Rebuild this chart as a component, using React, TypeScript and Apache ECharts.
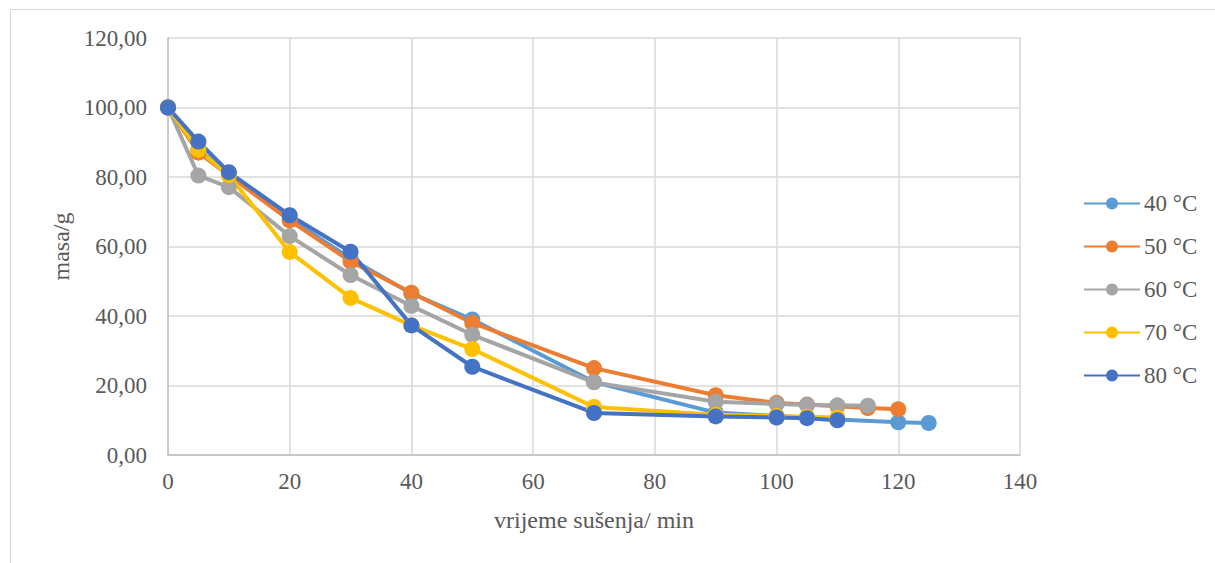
import React, { useEffect, useRef } from "react";
import * as echarts from "echarts";

const seriesNames = ["40 °C", "50 °C", "60 °C", "70 °C", "80 °C"];
const colors = ["#5B9BD5", "#ED7D31", "#A5A5A5", "#FFC000", "#4472C4"];

const t40 = [0, 5, 10, 20, 30, 40, 50, 70, 90, 100, 110, 120, 125];
const m40 = [100, 88, 81, 68, 56.5, 46.5, 39, 21, 12.2, 11.2, 10.2, 9.4, 9.2];

const t50 = [0, 5, 10, 20, 30, 40, 50, 70, 90, 100, 105, 110, 115, 120];
const m50 = [100, 87, 80.5, 67.5, 55.7, 46.7, 38, 25, 17.2, 15, 14.5, 14, 13.5, 13.2];

const t60 = [0, 5, 10, 20, 30, 40, 50, 70, 90, 100, 105, 110, 115];
const m60 = [100, 80.4, 77.1, 63, 51.8, 42.9, 34.6, 20.9, 15.3, 14.7, 14.4, 14.3, 14.2];

const t70 = [0, 5, 10, 20, 30, 40, 50, 70, 90, 100, 105, 110];
const m70 = [100, 87.8, 80.5, 58.4, 45.2, 37.3, 30.5, 13.8, 11.6, 11.2, 11, 10.8];

const t80 = [0, 5, 10, 20, 30, 40, 50, 70, 90, 100, 105, 110];
const m80 = [100, 90.2, 81.4, 69, 58.5, 37.3, 25.4, 12.1, 11.1, 10.8, 10.6, 10];

const times = [t40, t50, t60, t70, t80];
const masses = [m40, m50, m60, m70, m80];

const FONT = "'Liberation Serif', 'Times New Roman', Tinos, serif";
const TEXT = "#595959";

export default function App() {
  const ref = useRef<HTMLDivElement>(null);
  useEffect(() => {
    document.body.style.margin = "0";
    const chart = echarts.init(ref.current!, null, { renderer: "svg" });
    chart.setOption({
      animation: false,
      backgroundColor: "#ffffff",
      textStyle: { fontFamily: FONT, color: TEXT },
      graphic: [
        {
          type: "rect",
          shape: { x: 10.5, y: 9.5, width: 1220, height: 600 },
          style: { fill: "none", stroke: "#d9d9d9", lineWidth: 1 },
          silent: true,
        },
      ],
      grid: { left: 168, right: 195, top: 38, bottom: 108 },
      legend: {
        orient: "vertical",
        left: 1078,
        top: 187,
        itemWidth: 56,
        itemHeight: 15,
        itemGap: 20,
        textStyle: { fontFamily: FONT, fontSize: 23, color: TEXT, padding: [0, 0, 0, -1] },
        data: seriesNames,
      },
      xAxis: {
        type: "value",
        min: 0,
        max: 140,
        interval: 20,
        name: "vrijeme sušenja/ min",
        nameLocation: "middle",
        nameGap: 53,
        nameTextStyle: { fontFamily: FONT, fontSize: 24, color: TEXT },
        axisLine: { show: true, lineStyle: { color: "#bfbfbf", width: 1.5 } },
        axisTick: { show: false },
        axisLabel: { fontFamily: FONT, fontSize: 23, color: TEXT, margin: 15 },
        splitLine: { show: true, lineStyle: { color: "#d9d9d9", width: 1.5 } },
      },
      yAxis: {
        type: "value",
        min: 0,
        max: 120,
        interval: 20,
        name: "masa/g",
        nameLocation: "middle",
        nameGap: 95,
        nameRotate: 90,
        nameTextStyle: { fontFamily: FONT, fontSize: 24, color: TEXT },
        axisLine: { show: true, lineStyle: { color: "#bfbfbf", width: 1.5 } },
        axisTick: { show: false },
        axisLabel: {
          fontFamily: FONT,
          fontSize: 23,
          color: TEXT,
          margin: 21,
          formatter: (v: number) => v.toFixed(2).replace(".", ","),
        },
        splitLine: { show: true, lineStyle: { color: "#d9d9d9", width: 1.5 } },
      },
      series: seriesNames.map((name, i) => ({
        name,
        type: "line",
        data: times[i].map((t, j) => [t, masses[i][j]]),
        symbol: "circle",
        symbolSize: 16,
        lineStyle: { color: colors[i], width: 4 },
        itemStyle: { color: colors[i] },
      })),
    });
    return () => chart.dispose();
  }, []);
  return <div ref={ref} style={{ width: 1215, height: 563 }} />;
}
